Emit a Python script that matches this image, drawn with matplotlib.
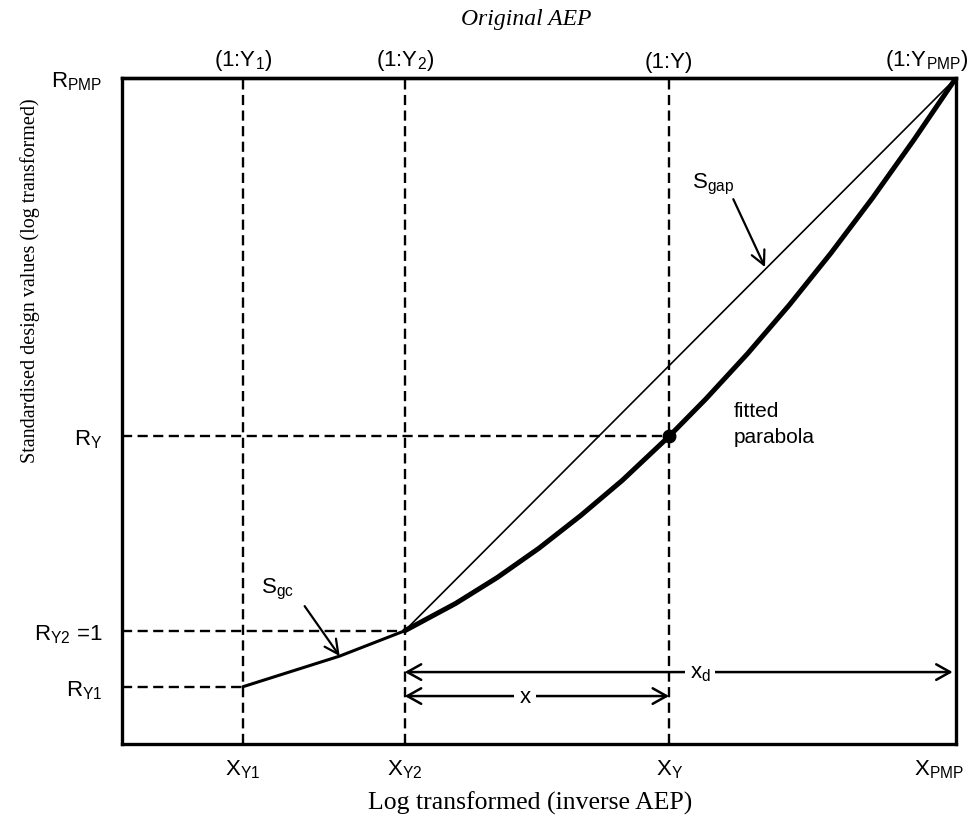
import matplotlib
matplotlib.use('Agg')
import matplotlib.pyplot as plt
import matplotlib.transforms as mtransforms

plt.rcParams['font.family'] = ['Liberation Sans', 'DejaVu Sans']
plt.rcParams['mathtext.fontset'] = 'custom'
plt.rcParams['mathtext.rm'] = 'Liberation Sans'
plt.rcParams['mathtext.it'] = 'Liberation Sans:italic'
plt.rcParams['mathtext.bf'] = 'Liberation Sans:bold'
plt.rcParams['mathtext.default'] = 'regular'

# ---- data (normalised log-transformed units) ----
x_ticks = [0.145, 0.339, 0.656, 1.0]          # X_Y1, X_Y2, X_Y, X_PMP
bottom_labels = [r'$X_{Y1}$', r'$X_{Y2}$', r'$X_{Y}$', r'$X_{PMP}$']
top_labels = [r'(1:Y$_{1}$)', r'(1:Y$_{2}$)', '(1:Y)', r'(1:Y$_{PMP}$)']
y_ticks = [0.086, 0.170, 0.462, 1.0]          # R_Y1, R_Y2, R_Y, R_PMP
left_labels = [r'$R_{Y1}$', r'$R_{Y2}$ =1', r'$R_{Y}$', r'$R_{PMP}$']

gc_x = [0.145, 0.261, 0.339]
gc_y = [0.086, 0.132, 0.170]
parab_x = [0.339, 0.40, 0.45, 0.50, 0.55, 0.60, 0.656, 0.70, 0.75, 0.80, 0.85, 0.90, 0.95, 1.0]
parab_y = [0.170, 0.211, 0.250, 0.294, 0.343, 0.396, 0.462, 0.518, 0.586, 0.659, 0.737, 0.820, 0.908, 1.0]
gap_x = [0.339, 1.0]
gap_y = [0.170, 1.0]
xd_level = 0.108
x_level = 0.072

fig = plt.figure(figsize=(9.75, 8.28), dpi=100)
ax = fig.add_axes([122/975, 1-745/828, (956-122)/975, (745-79)/828])
ax.set_xlim(0, 1)
ax.set_ylim(0, 1)
for s in ax.spines.values():
    s.set_linewidth(2.4)

dash = (0, (4.3, 2.3))
# vertical dashed guides
for xv in x_ticks[:3]:
    ax.axvline(xv, color='black', lw=1.7, ls=dash)
# horizontal dashed guides
for xv, yv in zip(x_ticks[:3], y_ticks[:3]):
    ax.plot([0, xv], [yv, yv], color='black', lw=1.7, ls=dash)

# curves
ax.plot(gc_x, gc_y, color='black', lw=2.2, solid_capstyle='round')
ax.plot(parab_x, parab_y, color='black', lw=3.6, solid_capstyle='round', solid_joinstyle='round')
ax.plot(gap_x, gap_y, color='black', lw=1.2)
ax.plot([x_ticks[2]], [y_ticks[2]], 'o', color='black', ms=9)

# distance arrows
aprops = dict(arrowstyle='<->,head_length=0.5,head_width=0.28', lw=1.8, color='black',
              shrinkA=0, shrinkB=0, mutation_scale=20)
ax.annotate('', xy=(x_ticks[3] - 0.004, xd_level), xytext=(x_ticks[1], xd_level), arrowprops=aprops)
ax.annotate('', xy=(x_ticks[2], x_level), xytext=(x_ticks[1], x_level), arrowprops=aprops)
ax.text(0.693, xd_level, r'x$_{d}$', fontsize=16, ha='center', va='center',
        bbox=dict(facecolor='white', edgecolor='none', pad=3))
ax.text(0.483, x_level, 'x', fontsize=16, ha='center', va='center',
        bbox=dict(facecolor='white', edgecolor='none', pad=4))

# labelled pointers
pprops = dict(arrowstyle='->,head_length=0.5,head_width=0.25', lw=1.6, color='black',
              shrinkA=0, shrinkB=0, mutation_scale=20)
ax.annotate('', xy=(0.771, 0.716), xytext=(0.733, 0.818), arrowprops=pprops)
ax.text(0.709, 0.841, r'S$_{gap}$', fontsize=16, ha='center', va='center')
ax.annotate('', xy=(0.261, 0.132), xytext=(0.219, 0.207), arrowprops=pprops)
ax.text(0.187, 0.233, r'S$_{gc}$', fontsize=16, ha='center', va='center')
ax.text(0.733, 0.481, 'fitted\nparabola', fontsize=15, ha='left', va='center', linespacing=1.5)

# ticks & labels
ax.set_xticks(x_ticks, bottom_labels)
ax.set_yticks(y_ticks, left_labels)
ax.tick_params(axis='x', length=0, pad=10, labelsize=16)
ax.tick_params(axis='y', length=0, pad=14, labelsize=16)
lab = ax.get_xticklabels()[-1]
lab.set_horizontalalignment('right')
lab.set_transform(lab.get_transform() + mtransforms.ScaledTranslation(8/100, 0, fig.dpi_scale_trans))

secax = ax.secondary_xaxis('top')
secax.set_xticks(x_ticks, top_labels)
secax.tick_params(length=0, pad=4, labelsize=16)
secax.spines['top'].set_linewidth(2.4)
tl = secax.get_xticklabels()[-1]
tl.set_horizontalalignment('right')
tl.set_transform(tl.get_transform() + mtransforms.ScaledTranslation(12/100, 0, fig.dpi_scale_trans))

fig.text(526/975, 1-20/828, 'Original AEP', family=['Liberation Serif', 'DejaVu Serif'],
         style='italic', fontsize=17, ha='center', va='center')
fig.text(530/975, 1-803/828, 'Log transformed (inverse AEP)', family=['Liberation Serif', 'DejaVu Serif'],
         fontsize=18.5, ha='center', va='center')
fig.text(30/975, 1-281/828, 'Standardised design values (log transformed)',
         family=['Liberation Serif', 'DejaVu Serif'], fontsize=14.5, rotation=90,
         ha='center', va='center')

fig.savefig('out.png', dpi=100)
